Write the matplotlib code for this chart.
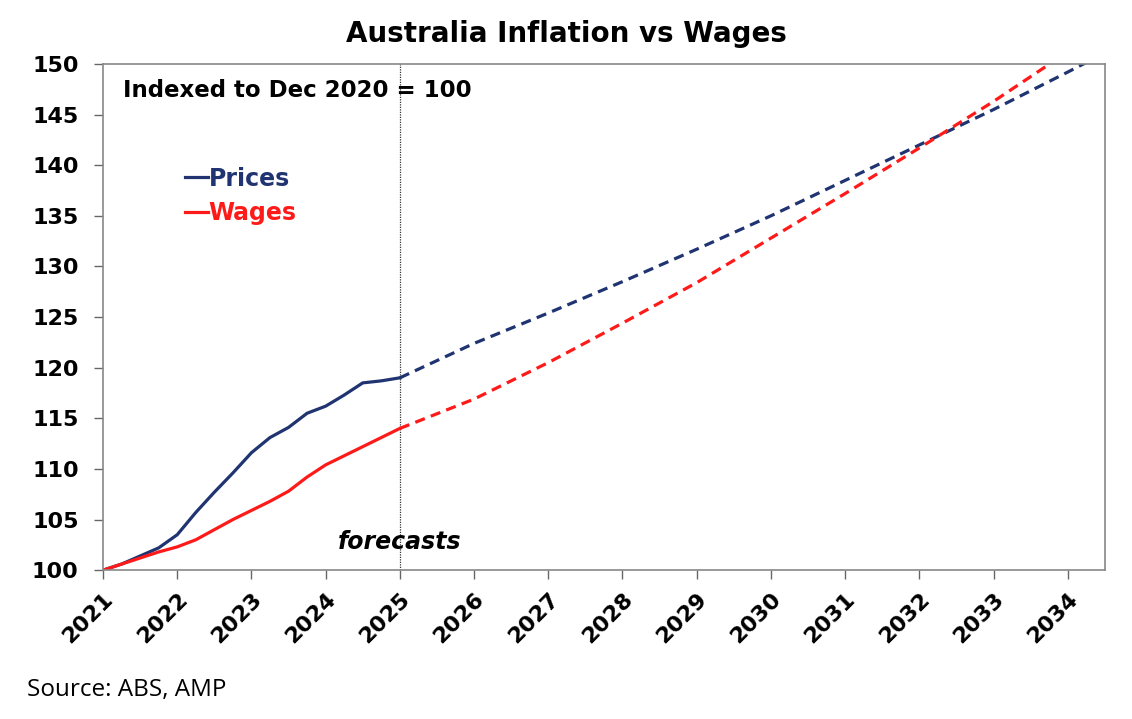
import matplotlib.pyplot as plt
from matplotlib.ticker import MultipleLocator
from matplotlib.transforms import ScaledTranslation
import numpy as np

# quarterly actuals, Dec 2020 = 100
actual_years = 2021 + np.arange(17) / 4
actual_prices = [100.0, 100.6, 101.4, 102.2, 103.5, 105.7, 107.7, 109.6, 111.6,
                 113.1, 114.1, 115.5, 116.2, 117.3, 118.5, 118.7, 119.0]
actual_wages = [100.0, 100.6, 101.2, 101.8, 102.3, 103.0, 104.0, 105.0, 105.9,
                106.8, 107.8, 109.2, 110.4, 111.3, 112.2, 113.1, 114.0]

# annual forecasts
fc_years = [2025, 2026, 2027, 2028, 2029, 2030, 2031, 2032, 2033, 2034, 2035]
fc_prices = [119.0, 122.4, 125.4, 128.5, 131.7, 135.0, 138.5, 142.0, 145.5, 149.2, 153.0]
fc_wages = [114.0, 116.9, 120.5, 124.4, 128.4, 132.8, 137.2, 141.7, 146.3, 151.2, 156.0]

year_ticks = list(range(2021, 2035))

navy = '#1f3471'
red = '#ff1a1a'
bold_font = 'DejaVu Sans'

fig = plt.figure(figsize=(11.32, 7.19), dpi=100)
ax = fig.add_axes([0.091, 0.207, 0.885, 0.704])

ax.plot(actual_years, actual_prices, color=navy, linewidth=2.3, label='Prices')
ax.plot(actual_years, actual_wages, color=red, linewidth=2.3, label='Wages')
ax.plot(fc_years, fc_prices, color=navy, linewidth=2.3, dashes=(3.2, 2.0))
ax.plot(fc_years, fc_wages, color=red, linewidth=2.3, dashes=(3.2, 2.0))

# forecast divider
ax.axvline(2025, color='#333333', linewidth=0.9, linestyle=(0, (1, 1)), zorder=0)
ax.text(2025, 102.8, 'forecasts', ha='center', va='center', fontsize=17,
        fontweight='bold', fontstyle='italic', family=bold_font)
ax.text(0.02, 0.97, 'Indexed to Dec 2020 = 100', transform=ax.transAxes,
        ha='left', va='top', fontsize=16.5, fontweight='bold', family=bold_font)

leg = ax.legend(loc='upper left', bbox_to_anchor=(0.082, 0.797), frameon=False,
                handlelength=0.95, handletextpad=0.05, labelspacing=0.45,
                borderaxespad=0, borderpad=0,
                prop={'family': bold_font, 'weight': 'bold', 'size': 17})
for txt, col in zip(leg.get_texts(), [navy, red]):
    txt.set_color(col)

ax.set_xlim(2021, 2034.5)
ax.set_ylim(100, 150)
ax.set_xticks(year_ticks)
ax.yaxis.set_major_locator(MultipleLocator(5))
ax.set_xticklabels([str(y) for y in year_ticks], rotation=45, ha='right',
                   rotation_mode='anchor')
shift = ScaledTranslation(8 / 100, 0, fig.dpi_scale_trans)
for lab in ax.get_xticklabels():
    lab.set_transform(lab.get_transform() + shift)
for lab in ax.get_xticklabels() + ax.get_yticklabels():
    lab.set_fontfamily(bold_font)
    lab.set_fontweight('bold')
    lab.set_fontsize(16)
ax.tick_params(axis='both', direction='out', length=6.5, width=1, color='#666666')
ax.tick_params(axis='x', pad=7)
ax.tick_params(axis='y', pad=11)
for sp in ax.spines.values():
    sp.set_color('#888888')
    sp.set_linewidth(1.2)

fig.text(0.5, 0.953, 'Australia Inflation vs Wages', ha='center', va='center',
         fontsize=20, fontweight='bold', family=bold_font)
fig.text(0.024, 0.041, 'Source: ABS, AMP', ha='left', va='center', fontsize=17.5,
         family='Open Sans')

fig.savefig('out.png', dpi=100)
